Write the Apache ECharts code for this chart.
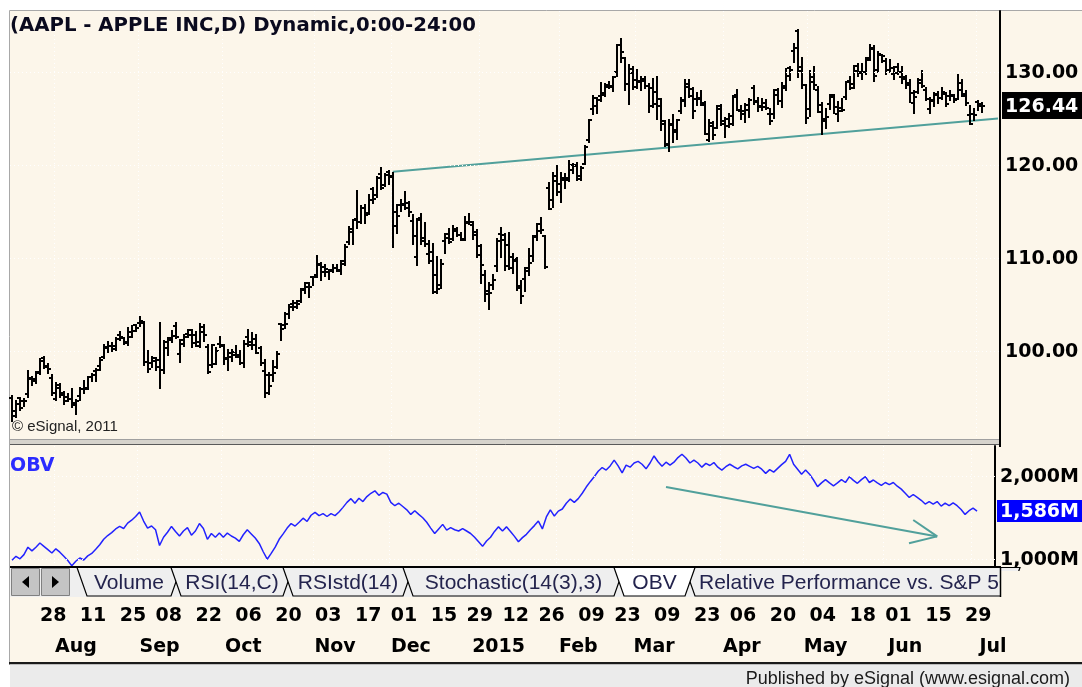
<!DOCTYPE html>
<html><head><meta charset="utf-8">
<script src="https://cdn.jsdelivr.net/npm/echarts@6/dist/echarts.min.js"></script>
<style>html,body{margin:0;padding:0;background:#fff}#c{width:1082px;height:687px}</style>
</head><body><div id="c"></div>
<script>
// ---------- DATA ----------
const dates = [].concat(
  ['17','18','21','22','23','24','25','28','29','30','31'].map(d => '2014-07-' + d),
  ['01','04','05','06','07','08','11','12','13','14','15','18','19','20','21','22','25','26','27','28','29'].map(d => '2014-08-' + d),
  ['02','03','04','05','08','09','10','11','12','15','16','17','18','19','22','23','24','25','26','29','30'].map(d => '2014-09-' + d),
  ['01','02','03','06','07','08','09','10','13','14','15','16','17','20','21','22','23','24','27','28','29','30','31'].map(d => '2014-10-' + d),
  ['03','04','05','06','07','10','11','12','13','14','17','18','19','20','21','24','25','26','28'].map(d => '2014-11-' + d),
  ['01','02','03','04','05','08','09','10','11','12','15','16','17','18','19','22','23','24','26','29','30','31'].map(d => '2014-12-' + d),
  ['02','05','06','07','08','09','12','13','14','15','16','20','21','22','23','26','27','28','29','30'].map(d => '2015-01-' + d),
  ['02','03','04','05','06','09','10','11','12','13','17','18','19','20','23','24','25','26','27'].map(d => '2015-02-' + d),
  ['02','03','04','05','06','09','10','11','12','13','16','17','18','19','20','23','24','25','26','27','30','31'].map(d => '2015-03-' + d),
  ['01','02','06','07','08','09','10','13','14','15','16','17','20','21','22','23','24','27','28','29','30'].map(d => '2015-04-' + d),
  ['01','04','05','06','07','08','11','12','13','14','15','18','19','20','21','22','26','27','28','29'].map(d => '2015-05-' + d),
  ['01','02','03','04','05','08','09','10','11','12','15','16','17','18','19','22','23','24','25','26','29','30'].map(d => '2015-06-' + d),
  ['01','02'].map(d => '2015-07-' + d)
);
const futureDays = ['2015-07-06','2015-07-07','2015-07-08','2015-07-09'];

const openP = [
95.03,93.62,94.99,94.68,95.42,97.04,96.85,97.82,99.33,98.44,97.16,
94.90,96.37,95.36,94.75,94.93,94.26,95.27,96.04,96.15,97.33,97.90,98.49,99.41,100.44,100.57,100.29,101.79,101.42,101.02,101.59,102.86,
103.06,103.10,98.85,98.80,99.30,99.08,98.01,100.41,101.21,102.81,99.80,101.27,101.93,102.29,101.80,100.60,102.16,100.51,98.53,98.65,100.81,
100.59,99.27,99.44,99.95,99.43,98.76,101.54,100.69,101.33,100.39,97.97,95.55,97.50,98.32,103.02,102.84,104.08,105.18,104.85,105.40,106.65,106.96,108.01,
108.22,109.36,109.10,108.60,108.75,109.02,108.70,109.38,111.80,113.15,114.27,113.94,115.44,114.91,117.51,116.85,119.07,117.94,119.27,
118.81,113.50,115.75,115.77,115.99,114.10,110.19,114.41,112.26,110.46,110.70,106.37,107.12,111.87,112.26,112.16,113.23,112.58,112.10,113.79,113.64,112.82,
111.39,108.29,106.54,107.20,109.23,112.67,112.60,111.43,109.04,110.00,107.03,107.84,108.95,110.26,112.30,113.74,112.42,117.63,116.32,118.40,
118.05,118.50,118.50,120.02,120.02,118.55,120.17,122.77,126.06,127.28,127.49,127.63,128.48,128.62,130.02,132.94,131.56,128.79,130.00,
129.25,128.96,129.10,128.58,128.40,127.96,126.41,124.75,122.31,124.40,123.88,125.90,127.00,128.75,128.25,127.12,127.23,126.54,122.76,124.57,124.05,126.09,
124.82,125.03,124.47,127.64,125.85,125.85,125.95,128.37,127.00,126.41,126.28,125.55,125.57,128.10,126.99,128.30,130.49,132.31,134.46,130.16,128.64,
126.10,129.50,128.15,126.56,124.77,126.68,127.39,125.60,126.15,127.41,129.07,128.38,130.69,130.00,130.07,131.60,132.60,130.34,131.86,131.23,
130.28,129.86,130.66,129.58,129.50,128.90,126.70,127.92,129.18,128.18,126.10,127.03,127.72,127.23,127.71,127.49,127.48,127.21,128.86,127.67,125.46,125.57,
126.90,126.43];
const highP = [
95.28,94.74,95.00,94.89,97.88,97.32,97.84,99.24,99.44,98.70,97.45,
96.62,96.58,95.68,95.48,95.95,94.82,96.08,96.88,97.24,97.57,98.19,99.37,100.68,101.09,100.94,101.47,102.17,101.50,102.57,102.78,102.90,
103.74,103.20,100.09,99.39,99.31,103.08,101.11,101.44,102.19,103.05,101.26,101.80,102.35,102.35,102.14,102.94,102.85,100.71,100.75,100.44,101.54,
100.69,100.22,100.21,100.65,100.12,101.11,102.38,102.03,101.78,100.52,99.15,97.72,99.00,99.96,103.02,104.11,105.05,105.49,105.48,106.74,107.37,107.35,108.04,
110.30,109.49,109.30,108.79,109.32,109.33,109.75,111.43,113.45,114.19,117.28,115.69,115.74,116.86,117.57,118.77,119.75,119.10,119.40,
119.25,115.75,116.35,117.20,116.08,114.65,114.30,114.85,113.80,111.87,111.60,110.16,109.84,112.65,113.24,113.49,113.33,112.71,114.52,114.77,113.92,113.13,
111.44,108.65,107.43,108.20,112.15,113.25,112.63,112.80,110.49,110.06,107.58,108.97,111.06,112.47,113.75,114.36,112.48,118.12,119.19,120.00,
119.17,119.09,120.51,120.23,120.25,119.84,122.15,124.92,127.48,127.28,128.88,128.78,129.03,129.50,133.00,133.60,131.60,130.87,130.57,
130.28,129.52,129.56,128.75,129.37,129.57,127.22,124.77,124.90,125.40,124.95,127.32,129.16,129.25,128.40,127.85,128.04,126.82,124.88,124.70,126.40,126.49,
125.12,125.56,127.51,128.12,126.40,126.58,127.21,128.57,127.29,127.13,127.10,126.14,128.12,128.20,128.87,130.42,130.63,133.13,134.54,131.59,128.64,
130.13,130.57,128.45,126.75,126.08,127.62,127.56,126.88,127.19,128.95,129.49,130.72,130.88,130.98,131.63,132.97,132.91,132.26,131.95,131.45,
131.39,130.66,130.94,130.58,129.69,129.21,128.08,129.34,130.18,128.33,127.24,127.85,127.88,128.31,127.82,128.06,127.61,129.80,129.20,127.99,126.47,126.12,
126.94,126.69];
const lowP = [
92.57,93.02,93.72,94.12,95.17,96.42,96.64,97.55,98.25,97.67,95.33,
94.81,95.17,94.36,94.71,94.10,93.28,94.84,95.61,96.04,96.80,96.86,97.98,99.32,99.95,100.11,100.19,101.28,100.86,100.70,101.56,102.20,
102.72,98.58,97.79,98.31,98.05,96.14,97.76,99.62,101.08,101.44,98.89,100.59,101.56,100.50,100.58,100.54,101.20,97.72,98.40,98.63,100.53,
98.70,98.04,99.04,99.42,98.73,98.31,100.61,100.30,99.81,98.57,95.18,95.41,96.81,98.22,101.27,102.60,103.63,104.53,104.70,105.35,106.36,105.90,107.21,
108.01,107.72,108.12,107.80,108.55,108.67,108.40,109.37,111.60,111.56,113.30,113.89,113.80,114.85,116.03,116.62,117.45,117.83,118.05,
111.27,112.75,115.11,115.29,114.64,111.62,109.35,111.54,111.34,109.58,106.35,106.26,106.82,110.66,111.66,111.97,112.46,112.01,112.01,113.70,112.11,110.21,
107.35,105.41,104.63,106.70,108.70,110.21,108.80,108.91,108.50,106.66,105.20,106.50,108.27,109.72,112.01,112.80,109.03,115.31,115.56,116.85,
116.08,117.61,118.31,119.25,118.45,118.43,120.16,122.50,125.57,125.65,126.92,127.45,128.33,128.05,129.66,131.17,128.15,126.61,128.24,
128.30,128.09,128.32,125.76,126.26,125.06,123.80,122.11,121.63,122.58,122.87,125.65,126.37,127.40,125.16,126.52,126.56,123.38,122.60,122.91,124.00,124.36,
123.10,124.19,124.33,125.98,124.97,124.66,125.26,126.61,125.91,126.01,126.11,124.46,125.17,126.67,126.32,128.14,129.23,131.15,129.57,128.30,124.58,
125.30,128.26,125.78,123.36,124.02,126.11,125.63,124.82,125.87,127.16,128.21,128.36,129.64,129.34,129.83,131.40,129.12,130.05,131.10,129.90,
130.05,129.32,129.90,128.91,128.36,126.83,125.62,127.85,128.48,127.11,125.71,126.37,126.74,127.22,126.40,127.08,126.88,127.12,127.50,126.51,124.48,124.86,
125.99,125.77];
const closeP = [
93.09,94.43,93.94,94.72,97.19,97.03,97.67,99.02,98.38,98.15,95.60,
96.13,95.59,95.12,94.96,94.48,94.74,95.99,95.97,97.24,97.50,97.98,99.16,100.53,100.57,100.58,101.32,101.54,100.89,102.13,102.25,102.50,
103.30,98.94,98.12,98.97,98.36,97.99,101.00,101.43,101.66,101.63,100.86,101.58,101.79,100.96,101.06,102.64,101.75,97.87,100.75,100.11,100.75,
99.18,99.90,99.62,99.62,98.75,100.80,101.02,100.73,99.81,98.75,97.54,96.26,97.67,99.76,102.47,102.99,104.83,105.22,105.11,106.74,107.34,106.98,108.00,
109.40,108.60,108.86,108.70,109.01,108.83,109.70,111.25,112.82,114.18,113.99,115.47,114.67,116.31,116.47,118.63,117.60,119.00,118.93,
115.07,114.63,115.93,115.49,115.00,112.40,114.12,111.95,111.62,109.73,108.23,106.75,109.41,112.65,111.78,112.94,112.54,112.01,113.99,113.91,112.52,110.38,
109.33,106.25,106.26,107.75,111.89,112.01,109.25,110.22,109.80,106.82,105.99,108.72,109.55,112.40,112.98,113.10,109.14,115.31,118.90,117.16,
118.63,118.65,119.56,119.94,118.93,119.72,122.02,124.88,126.46,127.08,127.83,128.72,128.45,129.50,133.00,132.17,128.79,130.42,128.46,
129.09,129.36,128.54,126.41,126.60,127.14,124.51,122.24,124.45,123.59,124.95,127.04,128.47,127.50,125.90,127.21,126.69,123.38,124.24,123.25,126.37,124.43,
124.25,125.32,127.35,126.01,125.60,126.56,127.10,126.85,126.30,126.78,126.17,124.75,127.60,126.91,128.62,129.67,130.28,132.65,130.56,128.64,125.15,
128.95,128.70,125.80,125.01,125.26,127.62,126.32,125.87,126.01,128.95,128.77,130.19,130.07,130.06,131.39,132.54,129.62,132.04,131.78,130.28,
130.54,129.96,130.12,129.36,128.65,127.80,127.42,128.88,128.59,127.17,126.92,127.60,127.30,127.88,126.60,127.61,127.03,128.11,127.50,126.75,124.53,125.43,
126.60,126.44];
// On Balance Volume, millions
const obv = [
993,1040,1010,1060,1150,1105,1150,1200,1160,1120,1080,
1130,1090,1040,990,925,980,1020,995,1045,1075,1125,1180,1245,1290,1325,1370,1400,1375,1440,1475,1520,
1575,1465,1380,1405,1360,1170,1270,1330,1400,1340,1285,1345,1385,1295,1345,1435,1375,1245,1315,1270,1320,
1270,1320,1285,1260,1220,1300,1360,1310,1260,1195,1095,1005,1075,1150,1245,1310,1380,1435,1405,1450,1500,1460,1535,
1570,1530,1555,1520,1555,1530,1575,1630,1690,1735,1680,1740,1700,1760,1800,1830,1775,1810,1790,
1690,1650,1680,1640,1600,1545,1590,1545,1505,1450,1380,1315,1370,1425,1355,1385,1360,1345,1375,1345,1315,1270,
1215,1160,1225,1270,1340,1395,1345,1395,1340,1280,1215,1265,1305,1360,1410,1465,1370,1515,1600,1525,
1585,1610,1680,1730,1690,1735,1800,1875,1940,2000,2065,2110,2080,2130,2200,2130,2045,2140,2115,
2165,2185,2150,2095,2165,2250,2180,2125,2175,2140,2175,2230,2270,2225,2165,2200,2165,2115,2160,2135,2170,2115,
2080,2120,2150,2120,2095,2130,2150,2125,2100,2125,2090,2040,2085,2055,2100,2145,2185,2270,2150,2090,2030,
2080,2030,1960,1880,1925,1965,1925,1890,1925,1965,1930,2000,1955,1920,1965,2000,1930,1960,1925,1895,
1930,1905,1930,1885,1850,1800,1750,1785,1750,1715,1670,1700,1670,1700,1645,1680,1650,1685,1650,1605,1545,1590,
1620,1586];

const trendIdx = [95, 246];
const trendVal = [119.35, 125.07];
const arrowIdx = [164, 232];
const arrowVal = [1875, 1280];

const priceTicks = [100, 110, 120, 130];
const obvTicks = [1000, 2000];
const tickDates = ['2014-07-28','2014-08-11','2014-08-25','2014-09-08','2014-09-22','2014-10-06','2014-10-20','2014-11-03','2014-11-17','2014-12-01','2014-12-15','2014-12-29','2015-01-12','2015-01-26','2015-02-09','2015-02-23','2015-03-09','2015-03-23','2015-04-06','2015-04-20','2015-05-04','2015-05-18','2015-06-01','2015-06-15','2015-06-29'];
const monthStarts = ['2014-08-01','2014-09-02','2014-10-01','2014-11-03','2014-12-01','2015-01-02','2015-02-02','2015-03-02','2015-04-01','2015-05-01','2015-06-01','2015-07-01'];
const monthNames = ['Aug','Sep','Oct','Nov','Dec','2015','Feb','Mar','Apr','May','Jun','Jul'];
const tabNames = ['Volume','RSI(14,C)','RSIstd(14)','Stochastic(14(3),3)','OBV','Relative Performance vs. S&P 500'];
const activeTab = 'OBV';
const titleText = '(AAPL - APPLE INC,D) Dynamic,0:00-24:00';

// ---------- CHART ----------
const categories = dates.concat(futureDays);
const tickSet = new Set(tickDates);
const monthMap = {}; monthStarts.forEach((d, i) => monthMap[d] = monthNames[i]);
const CREAM = '#fcf6ea';
const BOLD = 'bold 19px "DejaVu Sans"';
const TEAL = '#51a09b';

const ohlcData = dates.map((d, i) => [i, openP[i], highP[i], lowP[i], closeP[i]]);

function renderOHLC(params, api) {
  const i = api.value(0);
  const pO = api.coord([i, api.value(1)]);
  const pH = api.coord([i, api.value(2)]);
  const pL = api.coord([i, api.value(3)]);
  const pC = api.coord([i, api.value(4)]);
  const x = Math.round(pH[0]);
  const st = {stroke: '#000', lineWidth: 2};
  return {type: 'group', children: [
    {type: 'line', shape: {x1: x, y1: Math.round(pH[1]) - 1, x2: x, y2: Math.round(pL[1]) + 1}, style: st},
    {type: 'line', shape: {x1: x - 3, y1: Math.round(pO[1]), x2: x, y2: Math.round(pO[1])}, style: st},
    {type: 'line', shape: {x1: x, y1: Math.round(pC[1]), x2: x + 3, y2: Math.round(pC[1])}, style: st}
  ]};
}

function lastLabel(bg, text, h) {
  return function (params, api) {
    const p = api.coord([api.value(0), api.value(1)]);
    const cs = params.coordSys;
    const x0 = cs.x + cs.width + 2;
    return {type: 'group', children: [
      {type: 'rect', shape: {x: x0, y: Math.round(p[1] - h / 2), width: 1082 - x0, height: h}, style: {fill: bg}},
      {type: 'text', style: {text: text, x: x0 + 3, y: p[1] + 1, align: 'left', verticalAlign: 'middle', font: BOLD, fill: '#fff'}}
    ]};
  };
}

function renderArrow(params, api) {
  const p1 = api.coord([api.value(0), api.value(1)]);
  const p2 = api.coord([api.value(2), api.value(3)]);
  const dx = p1[0] - p2[0], dy = p1[1] - p2[1];
  const len = Math.sqrt(dx * dx + dy * dy);
  const ux = dx / len, uy = dy / len;
  const barb = (a) => {
    const c = Math.cos(a), s = Math.sin(a);
    return [p2[0] + 29 * (ux * c - uy * s), p2[1] + 29 * (ux * s + uy * c)];
  };
  const b1 = barb(0.42), b2 = barb(-0.42);
  const st = {stroke: TEAL, lineWidth: 2, fill: null};
  return {type: 'group', children: [
    {type: 'line', shape: {x1: p1[0], y1: p1[1], x2: p2[0], y2: p2[1]}, style: st},
    {type: 'line', shape: {x1: b1[0], y1: b1[1], x2: p2[0], y2: p2[1]}, style: st},
    {type: 'line', shape: {x1: b2[0], y1: b2[1], x2: p2[0], y2: p2[1]}, style: st}
  ]};
}

const gridLine = {show: true, interval: (i, v) => v in monthMap, lineStyle: {color: '#ffffff', type: [1, 3], width: 1}};
const baseX = {type: 'category', data: categories, boundaryGap: true,
  axisLine: {show: false}, axisTick: {show: false}};
const axisFont = {fontFamily: 'DejaVu Sans', fontWeight: 'bold', fontSize: 19, color: '#000'};

// graphic decorations
const graphics = [];
graphics.push({type: 'rect', z: -10, shape: {x: 9.5, y: 10.5, width: 1080, height: 652}, style: {fill: CREAM, stroke: '#a8a8a8', lineWidth: 1}});
graphics.push({type: 'rect', z: -9, shape: {x: 10, y: 439, width: 991, height: 6}, style: {fill: '#d6d3cc'}});
graphics.push({type: 'line', z: -9, shape: {x1: 10, y1: 439.5, x2: 1001, y2: 439.5}, style: {stroke: '#a0a0a0', lineWidth: 1}});
graphics.push({type: 'line', z: -9, shape: {x1: 10, y1: 444.5, x2: 1001, y2: 444.5}, style: {stroke: '#5a5a5a', lineWidth: 1}});
graphics.push({type: 'line', z: 5, shape: {x1: 1000, y1: 436, x2: 1000, y2: 447}, style: {stroke: '#000', lineWidth: 2}});
// tab strip
graphics.push({type: 'rect', z: 5, shape: {x: 10, y: 567, width: 991, height: 30}, style: {fill: '#efefef'}});
graphics.push({type: 'rect', z: 6, shape: {x: 11.5, y: 568.5, width: 28, height: 27}, style: {fill: '#c4c4c4', stroke: '#808080', lineWidth: 1}});
graphics.push({type: 'rect', z: 6, shape: {x: 41.5, y: 568.5, width: 28, height: 27}, style: {fill: '#c4c4c4', stroke: '#808080', lineWidth: 1}});
graphics.push({type: 'polygon', z: 7, shape: {points: [[22, 582], [29, 576], [29, 588]]}, style: {fill: '#000'}});
graphics.push({type: 'polygon', z: 7, shape: {points: [[59, 582], [52, 576], [52, 588]]}, style: {fill: '#000'}});
const tabLeft = [77, 171, 283, 403, 614, 685, 1010];
const tabOrder = tabNames.map((n, i) => i).filter(i => tabNames[i] !== activeTab).concat(tabNames.map((n, i) => i).filter(i => tabNames[i] === activeTab));
tabOrder.forEach((i, k) => {
  const L = tabLeft[i], R = tabLeft[i + 1];
  const active = tabNames[i] === activeTab;
  graphics.push({type: 'polygon', z: 8 + k, shape: {points: [[L, 567.5], [L + 10, 596], [R, 596], [R + 10, 567.5]]},
    style: {fill: active ? '#ffffff' : '#efefef', stroke: '#000', lineWidth: 1.2}});
  const last = i === tabNames.length - 1;
  graphics.push({type: 'text', z: 8 + k, x: last ? L + 14 : (L + 10 + R) / 2, y: 583,
    style: {text: tabNames[i], font: '21px "Liberation Sans"', fill: '#23234d', align: last ? 'left' : 'center', verticalAlign: 'middle',
      textAlign: last ? 'left' : 'center', textVerticalAlign: 'middle'}});
});
graphics.push({type: 'line', z: 30, shape: {x1: 10, y1: 567, x2: 1001, y2: 567}, style: {stroke: '#000', lineWidth: 2}});
graphics.push({type: 'rect', z: 30, shape: {x: 1001, y: 571, width: 81, height: 26}, style: {fill: CREAM}});
graphics.push({type: 'line', z: 30, shape: {x1: 1000.5, y1: 567, x2: 1000.5, y2: 597}, style: {stroke: '#000', lineWidth: 1.5}});
// bottom & footer
graphics.push({type: 'rect', z: 30, shape: {x: 9, y: 662, width: 1073, height: 2.5}, style: {fill: '#1a1a1a'}});
graphics.push({type: 'rect', z: 30, shape: {x: 10, y: 664.5, width: 1072, height: 23}, style: {fill: '#ebebeb'}});
graphics.push({type: 'text', z: 31, x: 1070, y: 679, style: {text: 'Published by eSignal (www.esignal.com)', font: '18px "Liberation Sans"', fill: '#1a1a1a', align: 'right', verticalAlign: 'middle', textAlign: 'right', textVerticalAlign: 'middle'}});
// titles
graphics.push({type: 'text', z: 31, x: 10, y: 26, style: {text: titleText, font: 'bold 19.7px "DejaVu Sans"', fill: '#0a0a1e', align: 'left', verticalAlign: 'middle', textAlign: 'left', textVerticalAlign: 'middle'}});
graphics.push({type: 'text', z: 31, x: 12, y: 427, style: {text: '\u00a9 eSignal, 2011', font: '15px "Liberation Sans"', fill: '#222', align: 'left', verticalAlign: 'middle', textAlign: 'left', textVerticalAlign: 'middle'}});
graphics.push({type: 'text', z: 31, x: 10, y: 466, style: {text: 'OBV', font: 'bold 19px "DejaVu Sans"', fill: '#2b2bff', align: 'left', verticalAlign: 'middle', textAlign: 'left', textVerticalAlign: 'middle'}});

const option = {
  animation: false,
  backgroundColor: '#ffffff',
  grid: [
    {left: 10, width: 990, top: 11, height: 426},
    {left: 10, width: 990, top: 446, height: 121}
  ],
  xAxis: [
    Object.assign({}, baseX, {gridIndex: 0, axisLabel: {show: false}, splitLine: gridLine}),
    Object.assign({}, baseX, {gridIndex: 1, splitLine: gridLine,
      axisLabel: Object.assign({show: true, interval: (i, v) => tickSet.has(v), formatter: v => v.slice(8),
        align: 'left', verticalAlign: 'middle', margin: 49, hideOverlap: false}, axisFont)}),
    Object.assign({}, baseX, {gridIndex: 1, position: 'bottom', splitLine: {show: false},
      axisLabel: Object.assign({show: true, interval: (i, v) => v in monthMap, formatter: v => monthMap[v] || '',
        align: 'center', verticalAlign: 'middle', margin: 80, padding: [0, 0, 0, 40], hideOverlap: false}, axisFont)})
  ],
  yAxis: [
    {gridIndex: 0, type: 'value', position: 'right', min: 90.83, max: 136.63, scale: true,
      axisLine: {show: true, lineStyle: {color: '#000', width: 2}},
      axisTick: {show: false, customValues: priceTicks},
      axisLabel: Object.assign({customValues: priceTicks, formatter: v => v.toFixed(2), margin: 5, verticalAlign: 'middle'}, axisFont),
      splitLine: {show: false}},
    {gridIndex: 1, type: 'value', position: 'right', min: 911, max: 2370, scale: true,
      axisLine: {show: true, lineStyle: {color: '#000', width: 2}},
      axisTick: {show: false, customValues: obvTicks},
      axisLabel: Object.assign({customValues: obvTicks, formatter: v => v.toLocaleString('en-US') + 'M', margin: 5, verticalAlign: 'middle'}, axisFont),
      splitLine: {show: false}}
  ],
  graphic: graphics,
  series: [
    {type: 'line', name: 'trend', xAxisIndex: 0, yAxisIndex: 0, z: 1, silent: true, symbol: 'none',
      data: trendIdx.map((x, i) => [x, trendVal[i]]),
      lineStyle: {color: TEAL, width: 2},
      markLine: {silent: true, symbol: 'none', label: {show: false},
        lineStyle: {color: '#ffffff', type: [1, 3], width: 1},
        data: priceTicks.map(v => ({yAxis: v}))}},
    {type: 'custom', name: 'AAPL', xAxisIndex: 0, yAxisIndex: 0, z: 2, silent: true,
      renderItem: renderOHLC, data: ohlcData, encode: {x: 0, y: [1, 2, 3, 4]}},
    {type: 'custom', name: 'lastPrice', xAxisIndex: 0, yAxisIndex: 0, z: 5, silent: true, clip: false,
      renderItem: lastLabel('#000000', closeP[closeP.length - 1].toFixed(2), 27),
      data: [[dates.length - 1, closeP[closeP.length - 1]]], encode: {x: 0, y: 1}},
    {type: 'custom', name: 'arrow', xAxisIndex: 1, yAxisIndex: 1, z: 1, silent: true,
      renderItem: renderArrow, data: [[arrowIdx[0], arrowVal[0], arrowIdx[1], arrowVal[1]]], encode: {x: [0, 2], y: [1, 3]},
      markLine: {silent: true, symbol: 'none', label: {show: false},
        lineStyle: {color: '#ffffff', type: [1, 3], width: 1},
        data: obvTicks.map(v => ({yAxis: v}))}},
    {type: 'line', name: 'OBV', xAxisIndex: 1, yAxisIndex: 1, z: 2, silent: true, symbol: 'none',
      data: obv, lineStyle: {color: '#2222ff', width: 1.5}},
    {type: 'custom', name: 'lastOBV', xAxisIndex: 1, yAxisIndex: 1, z: 5, silent: true, clip: false,
      renderItem: lastLabel('#0000ff', obv[obv.length - 1].toLocaleString('en-US') + 'M', 22),
      data: [[dates.length - 1, obv[obv.length - 1]]], encode: {x: 0, y: 1}}
  ]
};
const chart = echarts.init(document.getElementById('c'), null, {renderer: 'canvas'});
chart.setOption(option);
</script>
</body></html>
